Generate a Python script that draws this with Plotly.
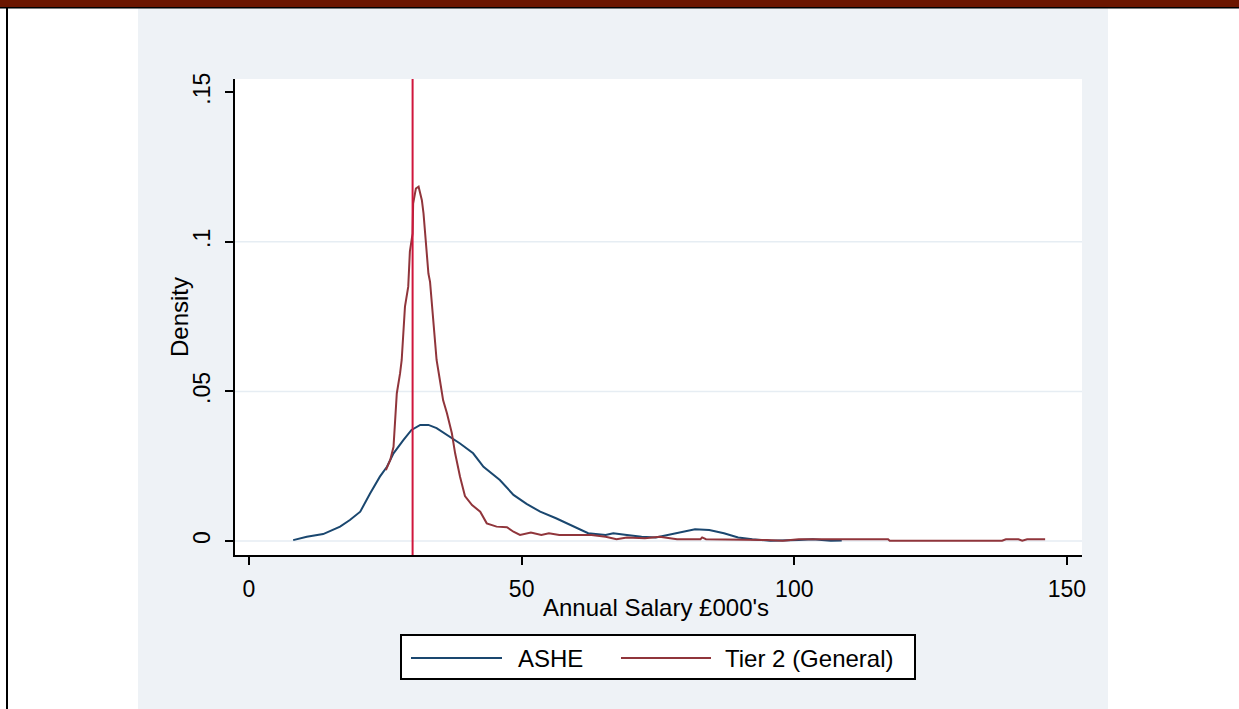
import plotly.graph_objects as go

# ---------------- data ----------------
ashe_x = [8.1, 10.6, 13.6, 16.7, 18.5, 20.4, 22.2, 24.0, 25.3, 26.5, 28.3, 29.8, 31.4, 32.9,
          34.4, 36.3, 38.7, 41.1, 43.0, 46.0, 48.5, 50.9, 53.4, 56.3, 59.5, 62.2, 65.4, 66.8,
          69.3, 72.0, 74.6, 76.6, 79.2, 81.8, 84.4, 87.1, 89.7, 92.3, 95.6, 97.5, 100.8, 103.4,
          106.7, 108.7]
ashe_y = [0.0003, 0.0014, 0.0023, 0.0048, 0.0070, 0.0098, 0.0159, 0.0215, 0.0248, 0.0293, 0.0337,
          0.0371, 0.0388, 0.0388, 0.0377, 0.0354, 0.0326, 0.0293, 0.0248, 0.0204, 0.0154, 0.0124,
          0.0098, 0.0076, 0.0048, 0.0026, 0.0020, 0.0026, 0.0020, 0.0014, 0.0012, 0.0020, 0.0031,
          0.0039, 0.0037, 0.0026, 0.0012, 0.0006, 0.0001, 0.0001, 0.0003, 0.0006, 0.0001, 0.0002]

tier2_x = [25.1, 25.9, 26.5, 26.8, 27.1, 27.7, 28.0, 28.6, 29.2, 29.5, 30.0, 30.1, 30.6, 31.1,
           31.7, 32.0, 32.3, 32.9, 33.2, 33.8, 34.4, 35.0, 35.6, 36.3, 37.2, 37.8, 38.7, 39.6,
           40.9, 42.4, 43.6, 45.4, 47.3, 48.5, 49.7, 51.7, 53.6, 55.0, 56.9, 62.8, 65.4, 67.4,
           69.3, 72.6, 75.3, 78.5, 82.8, 83.1, 83.8, 94.9, 97.9, 100.8, 117.2, 117.5, 121.8,
           138.1, 138.8, 141.1, 141.8, 142.7, 146.0]
tier2_y = [0.0237, 0.0271, 0.0315, 0.0404, 0.0493, 0.0560, 0.0605, 0.0783, 0.0850, 0.0967, 0.1028,
           0.1128, 0.1178, 0.1184, 0.1139, 0.1095, 0.1017, 0.0894, 0.0866, 0.0730, 0.0605, 0.0538,
           0.0470, 0.0427, 0.0360, 0.0293, 0.0215, 0.0150, 0.0120, 0.0098, 0.0059, 0.0048, 0.0046,
           0.0031, 0.0020, 0.0028, 0.0020, 0.0026, 0.0020, 0.0020, 0.0014, 0.0006, 0.0012, 0.0009,
           0.0014, 0.0006, 0.0006, 0.0012, 0.0006, 0.0003, 0.0001, 0.0006, 0.0006, 0.0001, 0.0001,
           0.0001, 0.0006, 0.0006, 0.0001, 0.0006, 0.0006]

threshold = 30
series_names = ["ASHE", "Tier 2 (General)"]
x_ticks = [0, 50, 100, 150]
x_tick_text = ["0", "50", "100", "150"]
y_ticks = [0, 0.05, 0.1, 0.15]
y_tick_text = ["0", ".05", ".1", ".15"]
y_grid = [0, 0.05, 0.1]
x_title = "Annual Salary £000's"
y_title = "Density"

# ---------------- styling ----------------
W, H = 1239, 709
L, R, T, B = 235, 157, 79, 154
PW, PH = W - L - R, H - T - B
NAVY = "#1A476F"
MAROON = "#90353B"
VLINE = "#D0163C"
BG = "#EEF2F6"
GRID = "#E6EDF3"
FONT = "Liberation Sans, Arial, sans-serif"
FS = 24
TFS = 23


def px(xp):
    return (xp - L) / PW


def py(yp):
    return (H - B - yp) / PH


fig = go.Figure()
fig.add_trace(go.Scatter(x=ashe_x, y=ashe_y, mode="lines", name=series_names[0],
                         line=dict(color=NAVY, width=2)))
fig.add_trace(go.Scatter(x=tier2_x, y=tier2_y, mode="lines", name=series_names[1],
                         line=dict(color=MAROON, width=2)))

shapes = []
# page decorations
shapes.append(dict(type="rect", xref="paper", yref="paper", x0=px(0), x1=px(138), y0=py(709), y1=py(8.5),
                   fillcolor="white", line_width=0, layer="below"))
shapes.append(dict(type="rect", xref="paper", yref="paper", x0=px(1108), x1=px(1239), y0=py(709), y1=py(8.5),
                   fillcolor="white", line_width=0, layer="below"))
shapes.append(dict(type="rect", xref="paper", yref="paper", x0=px(0), x1=px(1239), y0=py(7), y1=py(0),
                   fillcolor="#6B1600", line_width=0))
shapes.append(dict(type="rect", xref="paper", yref="paper", x0=px(0), x1=px(1239), y0=py(8.6), y1=py(7),
                   fillcolor="black", line_width=0))
shapes.append(dict(type="rect", xref="paper", yref="paper", x0=px(6), x1=px(8), y0=py(709), y1=py(8),
                   fillcolor="black", line_width=0))
# grid lines
for g in y_grid:
    shapes.append(dict(type="line", xref="paper", yref="y", x0=0, x1=1, y0=g, y1=g,
                       line=dict(color=GRID, width=1.5), layer="below"))
# threshold line
shapes.append(dict(type="line", xref="x", yref="paper", x0=threshold, x1=threshold, y0=0, y1=1,
                   line=dict(color=VLINE, width=2)))
# legend box
shapes.append(dict(type="rect", xref="paper", yref="paper", x0=px(401), x1=px(915), y0=py(679), y1=py(635),
                   fillcolor="white", line=dict(color="black", width=2)))
shapes.append(dict(type="line", xref="paper", yref="paper", x0=px(411), x1=px(502), y0=py(658), y1=py(658),
                   line=dict(color=NAVY, width=2)))
shapes.append(dict(type="line", xref="paper", yref="paper", x0=px(621), x1=px(711), y0=py(658), y1=py(658),
                   line=dict(color=MAROON, width=2)))

annotations = [
    dict(text=series_names[0], xref="paper", yref="paper", x=px(516), y=py(658), xanchor="left",
         yanchor="middle", showarrow=False, font=dict(family=FONT, size=FS, color="black")),
    dict(text=series_names[1], xref="paper", yref="paper", x=px(723), y=py(658), xanchor="left",
         yanchor="middle", showarrow=False, font=dict(family=FONT, size=FS, color="black")),
    dict(text=x_title, xref="paper", yref="paper", x=px(656), y=py(607), xanchor="center",
         yanchor="middle", showarrow=False, font=dict(family=FONT, size=FS, color="black")),
    dict(text=y_title, xref="paper", yref="paper", x=px(179), y=py(317), xanchor="center",
         yanchor="middle", showarrow=False, textangle=-90, font=dict(family=FONT, size=FS, color="black")),
]

fig.update_layout(
    width=W, height=H,
    margin=dict(l=L, r=R, t=T, b=B, pad=0),
    paper_bgcolor=BG, plot_bgcolor="white",
    showlegend=False,
    shapes=shapes, annotations=annotations,
    font=dict(family=FONT, size=FS, color="black"),
    xaxis=dict(range=[-2.57, 152.76], tickvals=x_ticks, ticktext=x_tick_text, showgrid=False,
               zeroline=False, showline=True, linecolor="black", linewidth=2, ticks="outside",
               ticklen=8, tickwidth=2, tickcolor="black", ticklabelstandoff=4,
               tickfont=dict(family=FONT, size=TFS, color="black")),
    yaxis=dict(range=[-0.00468, 0.1544], tickvals=y_ticks, ticktext=y_tick_text, showgrid=False,
               zeroline=False, showline=True, linecolor="black", linewidth=2, ticks="outside",
               ticklen=8, tickwidth=2, tickcolor="black", tickangle=-90, ticklabelstandoff=6,
               tickfont=dict(family=FONT, size=TFS, color="black")),
)

fig.write_html("out.html")
